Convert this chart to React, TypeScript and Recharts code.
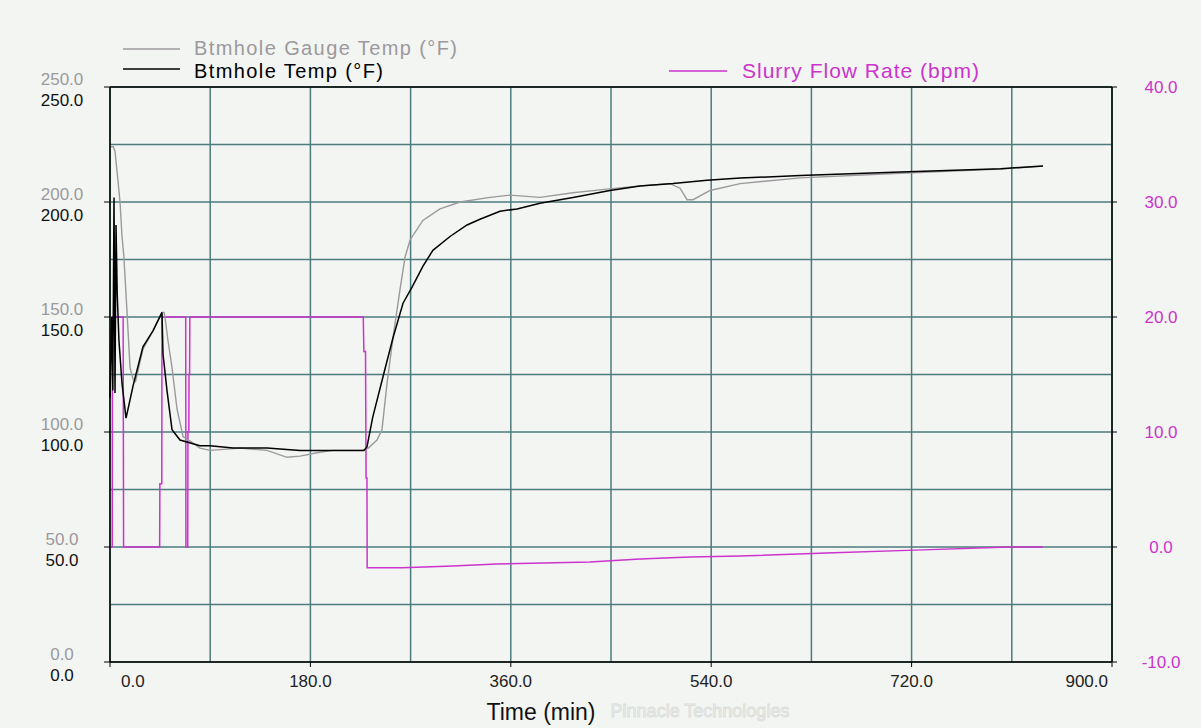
import { CartesianGrid, Line, LineChart, ReferenceLine, XAxis, YAxis } from 'recharts';

// Btmhole Gauge Temp (°F)
const gaugeTime = [
  0, 3, 4.5, 7, 9, 10.8, 12.5, 15.3, 18, 20.7, 23, 29.6, 38.6, 46.7, 48.5, 49.4, 52, 55.7, 60.2,
  65.6, 71.9, 80.8, 89.8, 116.8, 141, 159, 170.7, 186, 200, 227.3, 232, 239.8, 244.3, 248.8,
  254.2, 260.5, 265, 269.5, 281, 296.4, 314.4, 341.3, 359.3, 386.2, 415.9, 446.4, 476, 503, 512,
  518.3, 523.7, 539, 566, 620, 710, 800, 838,
];
const gaugeTemp = [
  224, 224, 222, 210, 200, 185, 176, 152, 128, 123, 122, 136, 144, 152, 152, 150, 140, 128, 110,
  98, 96, 93, 92, 93, 92, 89, 89.5, 91, 92, 92, 93, 96.5, 101, 121,
  141, 162, 176, 183.5, 192, 197, 200, 202, 203, 202, 204, 205.6, 207, 208, 206,
  201, 201, 205, 208, 210.5, 212.5, 214.3, 215.6,
];

// Btmhole Temp (°F)
const btmTime = [
  0, 1.5, 2.5, 3.6, 4.5, 5.4, 6.5, 8, 10.8, 14.4, 20.7, 29.6, 38.6, 46.7, 47.6, 51.2, 55.7, 62.9,
  80.8, 89.8, 110.5, 141, 170.7, 200, 228, 230.8, 236, 245.2, 254.2, 263.2, 271.3, 281, 290,
  305.4, 320.7, 332.3, 350.3, 365.6, 386.2, 415.9, 449, 476, 505.7, 536.3, 566, 620, 710, 800, 838,
];
const btmTemp = [
  115, 150, 118, 202, 117, 190, 160, 140, 121, 106, 120, 137, 144, 152, 134, 118, 101, 96.5,
  94, 94, 93, 93, 92, 92, 92, 93.5, 106.5, 124, 141, 156, 163, 172, 179,
  185, 190, 192.5, 196, 197, 199.5, 202, 205, 207, 208, 209.5, 210.4, 211.5, 213, 214.5, 215.6,
];

// Slurry Flow Rate (bpm)
const flowTime = [
  0, 2, 2.2, 11.8, 12.2, 44.6, 44.8, 46.5, 46.7, 68, 68.2, 69.8, 70, 70.8, 71, 71.5, 71.7,
  227.5, 228, 229.5, 230, 230.8, 231, 263, 308, 347, 389, 431, 476, 521, 566, 650, 730, 808, 838,
];
const flowRate = [
  0, 0, 20, 20, 0, 0, 5.5, 5.5, 20, 20, 0, 0, 10, 10, 15, 15, 20,
  20, 17, 17, 6, 6, -1.8, -1.8, -1.65, -1.48, -1.39, -1.3, -1.04, -0.87, -0.78, -0.5, -0.25, 0, 0,
];

const timeTicks = [0, 90, 180, 270, 360, 450, 540, 630, 720, 810, 900];
const tempTicks = [0, 25, 50, 75, 100, 125, 150, 175, 200, 225, 250];
const flowTicks = [-10, 0, 10, 20, 30, 40];

const zip = (ts: number[], vs: number[]) => ts.map((t, i) => ({ t, v: vs[i] }));
const gaugeData = zip(gaugeTime, gaugeTemp);
const btmData = zip(btmTime, btmTemp);
const flowData = zip(flowTime, flowRate);

const FONT = 'Arial, "Liberation Sans", sans-serif';
const GRID = '#4b7b7b';
const GRAY = '#9c999c';
const MAGENTA = '#cc33cc';

function TimeTick({ x, y, payload }: any) {
  const v = payload.value;
  if (v % 180 !== 0) return <g />;
  let anchor = 'middle';
  let dx = 0;
  if (v === 0) {
    anchor = 'start';
    dx = 11;
  }
  if (v === 900) {
    anchor = 'end';
    dx = -4;
  }
  return (
    <g>
      <line x1={x} x2={x} y1={y} y2={y + 5} stroke="#000" />
      <text x={x + dx} y={y + 25} textAnchor={anchor} fontSize={17} fill="#222" fontFamily={FONT}>
        {v.toFixed(1)}
      </text>
    </g>
  );
}

function TempTick({ x, y, payload }: any) {
  const v = payload.value;
  if (v % 50 !== 0) return <g />;
  return (
    <g>
      <line x1={x - 6} x2={x} y1={y} y2={y} stroke="#000" />
      <text x={x - 48} y={y - 2.5} textAnchor="middle" fontSize={17} fill={GRAY} fontFamily={FONT}>
        {v.toFixed(1)}
      </text>
      <text x={x - 48} y={y + 19} textAnchor="middle" fontSize={17} fill="#111" fontFamily={FONT}>
        {v.toFixed(1)}
      </text>
    </g>
  );
}

function FlowTick({ x, y, payload }: any) {
  const v = payload.value;
  return (
    <g>
      <line x1={x} x2={x + 5} y1={y} y2={y} stroke="#000" />
      <text x={x + 49} y={y + 6} textAnchor="middle" fontSize={17} fill={MAGENTA} fontFamily={FONT}>
        {v.toFixed(1)}
      </text>
    </g>
  );
}

export default function App() {
  return (
    <div
      style={{
        position: 'absolute',
        left: 0,
        top: 0,
        width: 1201,
        height: 728,
        background: '#f3f5f3',
        fontFamily: FONT,
      }}
    >
      <LineChart width={1201} height={728} margin={{ top: 87, right: 0, bottom: 0, left: 0 }}>
        <CartesianGrid yAxisId="left" stroke={GRID} strokeWidth={1.5} />
        <XAxis
          dataKey="t"
          type="number"
          domain={[0, 900]}
          ticks={timeTicks}
          interval={0}
          height={66}
          tickSize={0}
          tickMargin={0}
          tickLine={false}
          axisLine={{ stroke: '#000', strokeWidth: 1.5 }}
          tick={TimeTick}
        />
        <YAxis
          yAxisId="left"
          type="number"
          domain={[0, 250]}
          ticks={tempTicks}
          interval={0}
          width={110}
          tickSize={0}
          tickMargin={0}
          tickLine={false}
          axisLine={{ stroke: '#000', strokeWidth: 1.5 }}
          tick={TempTick}
        />
        <YAxis
          yAxisId="right"
          orientation="right"
          type="number"
          domain={[-10, 40]}
          ticks={flowTicks}
          interval={0}
          width={89}
          tickSize={0}
          tickMargin={0}
          tickLine={false}
          axisLine={{ stroke: '#000', strokeWidth: 1.5 }}
          tick={FlowTick}
        />
        <ReferenceLine yAxisId="left" y={250} stroke="#000" strokeWidth={1.5} />
        <Line
          data={flowData}
          dataKey="v"
          yAxisId="right"
          type="linear"
          stroke={MAGENTA}
          strokeWidth={1.5}
          dot={false}
          isAnimationActive={false}
        />
        <Line
          data={gaugeData}
          dataKey="v"
          yAxisId="left"
          type="linear"
          stroke={GRAY}
          strokeWidth={1.4}
          dot={false}
          isAnimationActive={false}
        />
        <Line
          data={btmData}
          dataKey="v"
          yAxisId="left"
          type="linear"
          stroke="#000"
          strokeWidth={1.5}
          dot={false}
          isAnimationActive={false}
        />
      </LineChart>
      <svg
        width={1201}
        height={728}
        style={{ position: 'absolute', left: 0, top: 0, pointerEvents: 'none' }}
        fontFamily={FONT}
      >
        {/* faint watermark, kept clear of the axis texts */}
        <text x={700} y={717} textAnchor="middle" fontSize={18} fill="none" stroke="#dcdedc" strokeWidth={1}>
          Pinnacle Technologies
        </text>
        <line x1={123} x2={180} y1={49} y2={49} stroke={GRAY} strokeWidth={1.5} />
        <text x={194} y={55} fontSize={20} letterSpacing={1.4} fill={GRAY}>
          Btmhole Gauge Temp (°F)
        </text>
        <line x1={123} x2={180} y1={69} y2={69} stroke="#000" strokeWidth={1.5} />
        <text x={194} y={78} fontSize={20} letterSpacing={1.4} fill="#000">
          Btmhole Temp (°F)
        </text>
        <line x1={669} x2={727} y1={71} y2={71} stroke={MAGENTA} strokeWidth={1.5} />
        <text x={742} y={78} fontSize={21} letterSpacing={1.0} fill={MAGENTA}>
          Slurry Flow Rate (bpm)
        </text>
        <text x={541} y={720} textAnchor="middle" fontSize={23} fill="#111">
          Time (min)
        </text>
      </svg>
    </div>
  );
}
